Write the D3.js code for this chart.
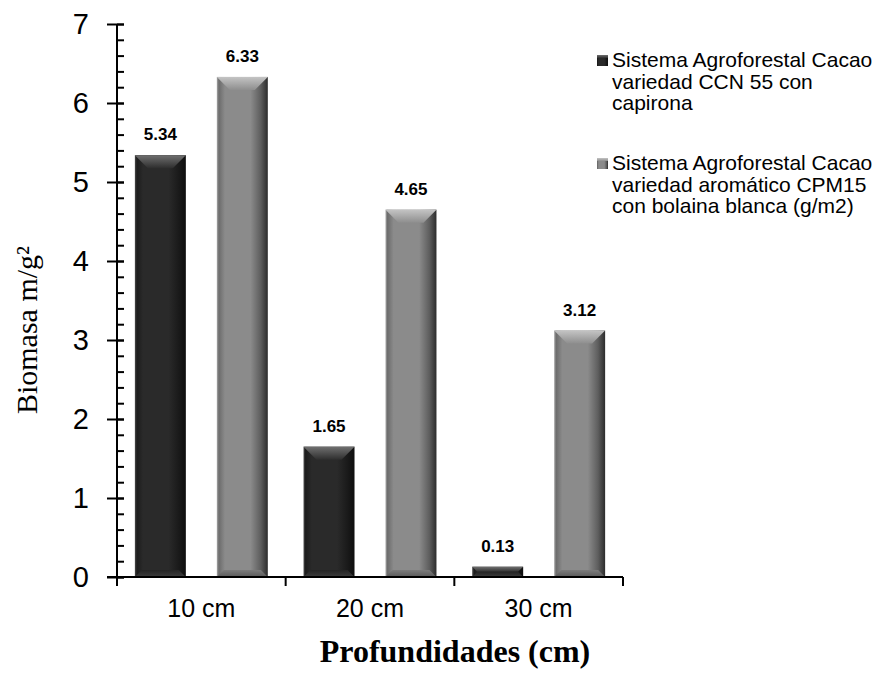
<!DOCTYPE html>
<html>
<head>
<meta charset="utf-8">
<script src="https://cdn.jsdelivr.net/npm/d3@7/dist/d3.min.js"></script>
<style>
  html, body { margin: 0; padding: 0; background: #fff; }
  svg { display: block; }
</style>
</head>
<body>
<svg id="chart" width="880" height="679"></svg>
<script>
// Depth categories and biomass per agroforestry system
const categories = ["10 cm", "20 cm", "30 cm"];
const seriesNames = [
  "Sistema Agroforestal Cacao variedad CCN 55 con capirona",
  "Sistema Agroforestal Cacao variedad aromático CPM15 con bolaina blanca (g/m2)"
];
const seriesCCN55 = [5.34, 1.65, 0.13];
const seriesCPM15 = [6.33, 4.65, 3.12];
const yTicks = [0, 1, 2, 3, 4, 5, 6, 7];
const legendLines = [
  ["Sistema Agroforestal Cacao", "variedad CCN 55 con", "capirona"],
  ["Sistema Agroforestal Cacao", "variedad aromático CPM15", "con bolaina blanca (g/m2)"]
];

const svg = d3.select("#chart");
const plot = { left: 117, right: 623, top: 24, bottom: 577 };

const y = d3.scaleLinear().domain([0, 7]).range([plot.bottom, plot.top]);
const x0 = d3.scaleBand().domain(categories).range([plot.left, plot.right]);
const x1 = d3.scaleBand().domain([0, 1]).range([0, x0.bandwidth()])
  .paddingInner(0.378).paddingOuter(0.218);

// Bevel shading palettes for the two series
const palettes = [
  { id: "s0", edge: "#4a4a4a", inner: "#1c1c1c", base: "#2a2a2a", shade: "#1a1a1a", far: "#0e0e0e",
    topHi: "#707070", topLo: "#2e2e2e", botHi: "#242424", botLo: "#3c3c3c" },
  { id: "s1", edge: "#a8a8a8", inner: "#6c6c6c", base: "#8b8b8b", shade: "#5e5e5e", far: "#2c2c2c",
    topHi: "#c4c4c4", topLo: "#8e8e8e", botHi: "#7c7c7c", botLo: "#5a5a5a" }
];

const defs = svg.append("defs");
palettes.forEach(p => {
  const h = defs.append("linearGradient").attr("id", p.id + "-body")
    .attr("x1", "0").attr("x2", "1").attr("y1", "0").attr("y2", "0");
  [[0, p.edge], [0.04, p.inner], [0.16, p.base], [0.66, p.base], [0.86, p.shade], [1, p.far]]
    .forEach(([o, c]) => h.append("stop").attr("offset", o).attr("stop-color", c));
  const t = defs.append("linearGradient").attr("id", p.id + "-top")
    .attr("x1", "0").attr("x2", "0").attr("y1", "0").attr("y2", "1");
  [[0, p.topHi], [1, p.topLo]].forEach(([o, c]) => t.append("stop").attr("offset", o).attr("stop-color", c));
  const b = defs.append("linearGradient").attr("id", p.id + "-bot")
    .attr("x1", "0").attr("x2", "0").attr("y1", "0").attr("y2", "1");
  [[0, p.botHi], [1, p.botLo]].forEach(([o, c]) => b.append("stop").attr("offset", o).attr("stop-color", c));
});

const rows = categories.map((c, i) => ({ cat: c, values: [seriesCCN55[i], seriesCPM15[i]] }));

// Bars with bevelled top and bottom
const groups = svg.append("g").selectAll("g").data(rows).join("g")
  .attr("transform", d => `translate(${x0(d.cat)},0)`);

const bars = groups.selectAll("g.bar")
  .data(d => d.values.map((v, s) => ({ v, s })))
  .join("g").attr("class", "bar");

bars.each(function(d) {
  const g = d3.select(this);
  const p = palettes[d.s];
  const bx = x1(d.s), bw = x1.bandwidth();
  const top = y(d.v), bot = y(0), h = bot - top;
  const bv = Math.min(13, h / 2, bw / 2);
  g.append("rect").attr("x", bx).attr("y", top).attr("width", bw).attr("height", h)
    .attr("fill", `url(#${p.id}-body)`);
  g.append("path")
    .attr("d", `M${bx},${top}L${bx + bw},${top}L${bx + bw - bv},${top + bv}L${bx + bv},${top + bv}Z`)
    .attr("fill", `url(#${p.id}-top)`);
  const bb = Math.min(7, h / 2);
  g.append("path")
    .attr("d", `M${bx + bb},${bot - bb}L${bx + bw - bb},${bot - bb}L${bx + bw},${bot}L${bx},${bot}Z`)
    .attr("fill", `url(#${p.id}-bot)`);
  g.append("text")
    .attr("x", bx + bw / 2).attr("y", top - 15)
    .attr("text-anchor", "middle")
    .attr("font-family", "Arial, 'Liberation Sans', sans-serif")
    .attr("font-weight", "bold").attr("font-size", 17)
    .text(d3.format(".2f")(d.v));
});

// Y axis: minor ticks inside, major ticks crossing the line
const minorTicks = d3.range(0, 7.001, 0.2).map(v => +v.toFixed(1));
const yAxisMinor = svg.append("g").attr("transform", `translate(${plot.left},0)`)
  .call(d3.axisLeft(y).tickValues(minorTicks).tickSize(-7).tickSizeOuter(0).tickFormat(""));
yAxisMinor.select(".domain").remove();
yAxisMinor.selectAll("line").attr("stroke", "#000").attr("stroke-width", 2);

const yAxis = svg.append("g").attr("transform", `translate(${plot.left},0)`)
  .call(d3.axisLeft(y).tickValues(yTicks).tickSize(10).tickSizeOuter(0).tickPadding(18)
    .tickFormat(d3.format("d")));
yAxis.select(".domain").remove();
yAxis.selectAll("line").attr("stroke", "#000").attr("stroke-width", 2).attr("x2", -10).attr("x1", 7);
yAxis.selectAll("text")
  .attr("font-family", "Arial, 'Liberation Sans', sans-serif")
  .attr("font-size", 29).attr("fill", "#000");

svg.append("line")
  .attr("x1", plot.left).attr("x2", plot.left)
  .attr("y1", y(7)).attr("y2", y(0))
  .attr("stroke", "#000").attr("stroke-width", 2);

// X axis with boundary ticks between categories
const xAxis = svg.append("g").attr("transform", `translate(0,${plot.bottom})`)
  .call(d3.axisBottom(x0).tickSize(0).tickPadding(22));
xAxis.select(".domain").remove();
xAxis.selectAll("text")
  .attr("font-family", "Arial, 'Liberation Sans', sans-serif")
  .attr("font-size", 25).attr("fill", "#000");

const boundaries = categories.map(c => x0(c)).concat([x0(categories[2]) + x0.bandwidth()]);
svg.append("g").selectAll("line").data(boundaries).join("line")
  .attr("x1", d => d).attr("x2", d => d)
  .attr("y1", plot.bottom).attr("y2", plot.bottom + 9)
  .attr("stroke", "#000").attr("stroke-width", 2);

svg.append("line")
  .attr("x1", plot.left - 10).attr("x2", plot.right)
  .attr("y1", plot.bottom).attr("y2", plot.bottom)
  .attr("stroke", "#000").attr("stroke-width", 2);

// Axis titles
svg.append("text")
  .attr("transform", `translate(37,${330}) rotate(-90)`)
  .attr("text-anchor", "middle")
  .attr("font-family", "'Times New Roman', 'Liberation Serif', serif")
  .attr("font-size", 30)
  .text("Biomasa m/g²");

svg.append("text")
  .attr("x", 455).attr("y", 662)
  .attr("text-anchor", "middle")
  .attr("font-family", "'Times New Roman', 'Liberation Serif', serif")
  .attr("font-weight", "bold").attr("font-size", 32)
  .text("Profundidades (cm)");

// Legend
const legend = svg.append("g");
const legendTops = [55, 158];
seriesNames.forEach((name, i) => {
  const p = palettes[i];
  const g = legend.append("g").attr("transform", `translate(0,${legendTops[i]})`);
  g.append("rect").attr("x", 597).attr("y", 0).attr("width", 11).attr("height", 11)
    .attr("fill", `url(#${p.id}-body)`);
  g.append("rect").attr("x", 597).attr("y", 0).attr("width", 11).attr("height", 3)
    .attr("fill", `url(#${p.id}-top)`);
  const t = g.append("text")
    .attr("font-family", "Arial, 'Liberation Sans', sans-serif")
    .attr("font-size", 21).attr("fill", "#000");
  legendLines[i].forEach((line, k) => {
    t.append("tspan").attr("x", 612).attr("y", 12 + k * 21.5).text(line);
  });
});
</script>
</body>
</html>
